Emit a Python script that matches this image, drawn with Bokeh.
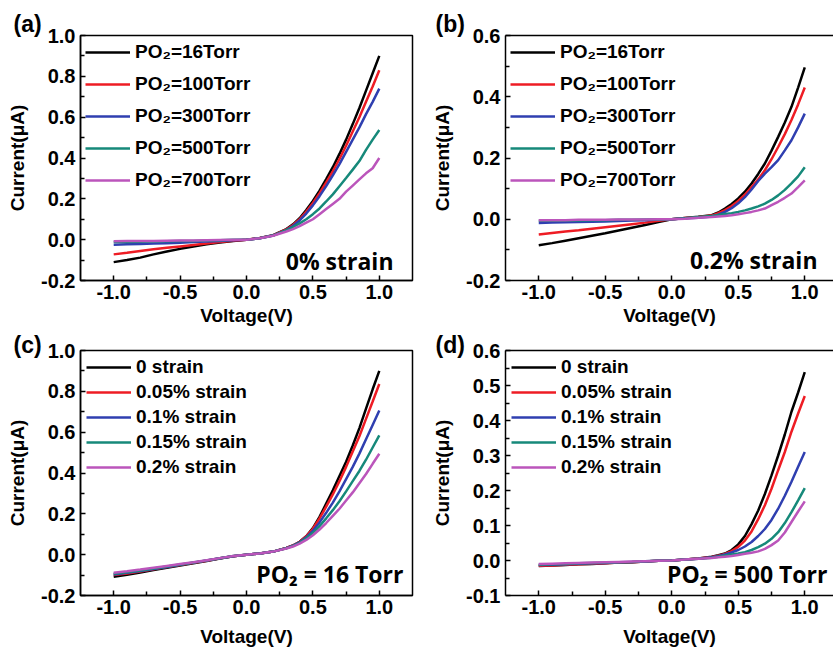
from bokeh.plotting import figure
from bokeh.layouts import gridplot
from bokeh.models import (Range1d, FixedTicker, PrintfTickFormatter, Legend,
                          LegendItem, Label, LinearAxis)
from bokeh.embed import file_html
from bokeh.resources import INLINE

# ---------------- data ----------------
voltage = [-1.0, -0.9, -0.8, -0.7, -0.6, -0.5, -0.4, -0.3, -0.2, -0.1, 0.0, 0.1, 0.2,
           0.3, 0.35, 0.4, 0.45, 0.5, 0.55, 0.6, 0.65, 0.7, 0.75, 0.8, 0.85, 0.9, 0.95, 1.0]

# (a) 0% strain, various oxygen pressures
a_16 = [-0.110, -0.100, -0.088, -0.072, -0.058, -0.045, -0.033, -0.023, -0.014, -0.006, 0.0, 0.008, 0.022,
        0.052, 0.075, 0.105, 0.145, 0.19, 0.24, 0.297, 0.355, 0.42, 0.49, 0.566, 0.645, 0.73, 0.815, 0.90]
a_100 = [-0.072, -0.064, -0.055, -0.047, -0.040, -0.033, -0.026, -0.019, -0.012, -0.005, 0.0, 0.008, 0.021,
         0.05, 0.072, 0.10, 0.138, 0.18, 0.228, 0.28, 0.335, 0.395, 0.46, 0.53, 0.60, 0.675, 0.75, 0.83]
a_300 = [-0.025, -0.023, -0.021, -0.019, -0.017, -0.015, -0.012, -0.009, -0.006, -0.003, 0.0, 0.007, 0.02,
         0.047, 0.067, 0.094, 0.128, 0.168, 0.213, 0.262, 0.315, 0.37, 0.43, 0.49, 0.55, 0.615, 0.675, 0.74]
a_500 = [-0.012, -0.011, -0.010, -0.009, -0.008, -0.007, -0.006, -0.004, -0.003, -0.001, 0.0, 0.007, 0.02,
         0.046, 0.062, 0.08, 0.10, 0.125, 0.153, 0.187, 0.222, 0.262, 0.302, 0.343, 0.385, 0.44, 0.49, 0.537]
a_700 = [-0.008, -0.007, -0.007, -0.006, -0.005, -0.004, -0.004, -0.003, -0.002, -0.001, 0.0, 0.007, 0.019,
         0.04, 0.052, 0.066, 0.083, 0.10, 0.125, 0.15, 0.175, 0.20, 0.235, 0.265, 0.295, 0.325, 0.35, 0.40]

# (b) 0.2% strain, various oxygen pressures
b_16 = [-0.085, -0.078, -0.070, -0.062, -0.054, -0.046, -0.037, -0.028, -0.019, -0.009, 0.0, 0.004, 0.008,
        0.013, 0.022, 0.035, 0.05, 0.068, 0.09, 0.117, 0.148, 0.182, 0.224, 0.269, 0.316, 0.367, 0.43, 0.496]
b_100 = [-0.050, -0.045, -0.040, -0.036, -0.031, -0.026, -0.021, -0.016, -0.011, -0.005, 0.0, 0.004, 0.007,
         0.012, 0.02, 0.03, 0.043, 0.06, 0.08, 0.105, 0.13, 0.16, 0.196, 0.236, 0.278, 0.324, 0.375, 0.43]
b_300 = [-0.012, -0.011, -0.010, -0.009, -0.008, -0.007, -0.006, -0.004, -0.003, -0.001, 0.0, 0.003, 0.005,
         0.009, 0.015, 0.024, 0.036, 0.052, 0.072, 0.097, 0.125, 0.149, 0.17, 0.193, 0.225, 0.258, 0.30, 0.345]
b_500 = [-0.005, -0.005, -0.004, -0.004, -0.003, -0.003, -0.002, -0.002, -0.001, -0.001, 0.0, 0.003, 0.007,
         0.011, 0.014, 0.017, 0.02, 0.024, 0.029, 0.035, 0.042, 0.051, 0.063, 0.078, 0.096, 0.117, 0.14, 0.17]
b_700 = [-0.003, -0.003, -0.003, -0.002, -0.002, -0.002, -0.001, -0.001, -0.001, 0.0, 0.0, 0.002, 0.005,
         0.007, 0.009, 0.011, 0.013, 0.016, 0.02, 0.024, 0.029, 0.035, 0.046, 0.057, 0.07, 0.084, 0.105, 0.127]

# (c) PO2 = 16 Torr, various strains
c_0 = [-0.108, -0.098, -0.087, -0.075, -0.064, -0.053, -0.042, -0.031, -0.019, -0.008, 0.0, 0.006, 0.015,
       0.033, 0.045, 0.063, 0.09, 0.13, 0.185, 0.25, 0.315, 0.385, 0.455, 0.535, 0.62, 0.715, 0.81, 0.90]
c_005 = [-0.100, -0.092, -0.082, -0.071, -0.061, -0.051, -0.040, -0.030, -0.018, -0.008, 0.0, 0.006, 0.015,
         0.033, 0.045, 0.062, 0.09, 0.127, 0.178, 0.235, 0.295, 0.36, 0.43, 0.505, 0.58, 0.665, 0.75, 0.836]
c_01 = [-0.097, -0.089, -0.080, -0.070, -0.060, -0.050, -0.039, -0.029, -0.018, -0.008, 0.0, 0.006, 0.015,
        0.032, 0.044, 0.06, 0.085, 0.117, 0.158, 0.205, 0.255, 0.31, 0.37, 0.43, 0.495, 0.565, 0.635, 0.706]
c_015 = [-0.093, -0.086, -0.077, -0.068, -0.058, -0.048, -0.038, -0.028, -0.018, -0.007, 0.0, 0.006, 0.015,
         0.031, 0.043, 0.058, 0.08, 0.107, 0.14, 0.178, 0.218, 0.262, 0.31, 0.36, 0.41, 0.465, 0.525, 0.584]
c_02 = [-0.088, -0.081, -0.073, -0.064, -0.055, -0.046, -0.037, -0.027, -0.017, -0.007, 0.0, 0.006, 0.015,
        0.03, 0.04, 0.054, 0.072, 0.095, 0.123, 0.155, 0.19, 0.225, 0.265, 0.305, 0.35, 0.395, 0.445, 0.494]

# (d) PO2 = 500 Torr, various strains
d_0 = [-0.016, -0.014, -0.013, -0.011, -0.010, -0.008, -0.006, -0.005, -0.003, -0.001, 0.0, 0.003, 0.006,
       0.011, 0.015, 0.02, 0.03, 0.046, 0.07, 0.104, 0.143, 0.19, 0.243, 0.30, 0.36, 0.425, 0.48, 0.538]
d_005 = [-0.015, -0.014, -0.012, -0.011, -0.009, -0.008, -0.006, -0.005, -0.003, -0.001, 0.0, 0.003, 0.006,
         0.01, 0.014, 0.019, 0.027, 0.039, 0.057, 0.083, 0.118, 0.158, 0.205, 0.258, 0.31, 0.368, 0.42, 0.47]
d_01 = [-0.013, -0.012, -0.011, -0.009, -0.008, -0.007, -0.005, -0.004, -0.003, -0.001, 0.0, 0.003, 0.005,
        0.009, 0.012, 0.017, 0.023, 0.03, 0.04, 0.053, 0.07, 0.09, 0.116, 0.148, 0.185, 0.225, 0.268, 0.31]
d_015 = [-0.012, -0.011, -0.010, -0.008, -0.007, -0.006, -0.005, -0.004, -0.002, -0.001, 0.0, 0.003, 0.005,
         0.008, 0.011, 0.014, 0.017, 0.02, 0.024, 0.03, 0.038, 0.048, 0.062, 0.081, 0.107, 0.138, 0.172, 0.207]
d_02 = [-0.010, -0.009, -0.008, -0.007, -0.006, -0.005, -0.004, -0.003, -0.002, -0.001, 0.0, 0.003, 0.005,
        0.007, 0.009, 0.011, 0.013, 0.016, 0.019, 0.022, 0.026, 0.033, 0.044, 0.057, 0.08, 0.11, 0.14, 0.169]

pressure_labels = ["PO₂=16Torr", "PO₂=100Torr", "PO₂=300Torr", "PO₂=500Torr", "PO₂=700Torr"]
strain_labels = ["0 strain", "0.05% strain", "0.1% strain", "0.15% strain", "0.2% strain"]

x_ticks = [-1.0, -0.5, 0.0, 0.5, 1.0]
x_minor = [-0.75, -0.25, 0.25, 0.75]
y_ticks_a = [-0.2, 0.0, 0.2, 0.4, 0.6, 0.8, 1.0]
y_minor_a = [-0.1, 0.1, 0.3, 0.5, 0.7, 0.9]
y_ticks_b = [-0.2, 0.0, 0.2, 0.4, 0.6]
y_minor_b = [-0.1, 0.1, 0.3, 0.5]
y_ticks_d = [-0.1, 0.0, 0.1, 0.2, 0.3, 0.4, 0.5, 0.6]
y_minor_d = [-0.05, 0.05, 0.15, 0.25, 0.35, 0.45, 0.55]

COLORS = ["#000000", "#ee1c24", "#2f3fb0", "#16897a", "#bb55bb"]
AX_FONT = "Liberation Sans"
ANN_FONT = "Open Sans"


def style_axis(ax, ticks, minor, label, standoff, label_standoff):
    ax.ticker = FixedTicker(ticks=ticks, minor_ticks=minor)
    ax.formatter = PrintfTickFormatter(format="%.1f")
    ax.axis_line_color = "black"
    ax.axis_line_width = 1.5
    ax.major_tick_in = 5
    ax.major_tick_out = 0
    ax.minor_tick_in = 4
    ax.minor_tick_out = 0
    ax.major_tick_line_width = 1.5
    ax.minor_tick_line_width = 1.5
    ax.major_tick_line_color = "black"
    ax.minor_tick_line_color = "black"
    ax.major_label_text_font = AX_FONT
    ax.major_label_text_font_size = "20px"
    ax.major_label_text_font_style = "bold"
    ax.major_label_text_color = "black"
    ax.major_label_standoff = standoff
    ax.axis_label = label
    ax.axis_label_text_font = AX_FONT
    ax.axis_label_text_font_size = "19px"
    ax.axis_label_text_font_style = "bold"
    ax.axis_label_text_color = "black"
    ax.axis_label_standoff = label_standoff


def make_panel(width, height, xr, yr, borders, yt, ym, series, labels, letter, letter_dx,
               letter_standoff, note, note_x, note_y, legend_h, legend_sp, legend_m,
               clipped_right, x_lab_standoff):
    bl, br, bt, bb = borders
    p = figure(width=width, height=height, x_range=Range1d(*xr), y_range=Range1d(*yr),
               output_backend="svg", toolbar_location=None,
               min_border_left=bl, min_border_right=br, min_border_top=bt, min_border_bottom=bb)
    p.grid.visible = False
    p.background_fill_color = "white"
    p.border_fill_color = "white"

    # panel letter as the plot title, pushed left of the frame
    p.title.text = letter
    p.title.align = "left"
    p.title.offset = letter_dx
    p.title.standoff = letter_standoff
    p.title.text_font = AX_FONT
    p.title.text_font_size = "23px"
    p.title.text_font_style = "bold"
    p.title.text_color = "black"

    style_axis(p.below[0], x_ticks, x_minor, "Voltage(V)", 4, x_lab_standoff)
    style_axis(p.left[0], yt, ym, "Current(μA)", 5, 10)

    if clipped_right:
        # panel runs off the page on the right: draw only top, left and bottom edges
        p.outline_line_color = None
        top = LinearAxis(ticker=FixedTicker(ticks=[]), major_tick_in=0, major_tick_out=0,
                         minor_tick_in=0, minor_tick_out=0, major_label_standoff=0,
                         axis_line_width=1.5, axis_line_color="black")
        p.add_layout(top, "above")
    else:
        p.outline_line_color = "black"
        p.outline_line_width = 1.5
        p.outline_line_alpha = 1.0

    items = []
    for ys, lab, col in zip(series, labels, COLORS):
        r = p.line(voltage, ys, line_color=col, line_width=2.5)
        items.append(LegendItem(label=lab, renderers=[r]))
    leg = Legend(items=items, location="top_left", background_fill_alpha=0,
                 border_line_color=None, label_text_font=AX_FONT, label_text_font_size="19px",
                 label_text_font_style="bold", label_text_color="black",
                 glyph_width=45, glyph_height=legend_h, label_height=legend_h,
                 spacing=legend_sp, padding=0, margin=legend_m, label_standoff=5)
    p.add_layout(leg)

    p.add_layout(Label(x=note_x, y=note_y, x_units="screen", y_units="screen", text=note,
                       text_font=ANN_FONT, text_font_size="23px", text_font_style="bold",
                       text_baseline="alphabetic", text_align="right", text_color="black"))
    return p


TOP_H, BOT_H = 330, 319
LEFT_W, RIGHT_W = 420, 413
X_RIGHT = (-1.25, 1.216)

pa = make_panel(LEFT_W, TOP_H, (-1.25, 1.25), (-0.2, 1.0), (80, 8, 35, 50), y_ticks_a, y_minor_a,
                [a_16, a_100, a_300, a_500, a_700], pressure_labels, "(a)", -67, -2,
                "0% strain", 313, 20, 24, 8, 5, False, 3)
pb = make_panel(RIGHT_W, TOP_H, X_RIGHT, (-0.2, 0.6), (85, 0, 35, 50), y_ticks_b, y_minor_b,
                [b_16, b_100, b_300, b_500, b_700], pressure_labels, "(b)", -70, -2,
                "0.2% strain", 312, 21, 24, 8, 5, True, 3)
pc = make_panel(LEFT_W, BOT_H, (-1.25, 1.25), (-0.2, 1.0), (80, 8, 20, 54), y_ticks_a, y_minor_a,
                [c_0, c_005, c_01, c_015, c_02], strain_labels, "(c)", -67, -14,
                "PO₂ = 16 Torr", 323, 22, 22, 3, 6, False, 9)
pd = make_panel(RIGHT_W, BOT_H, X_RIGHT, (-0.1, 0.6), (85, 0, 20, 54), y_ticks_d, y_minor_d,
                [d_0, d_005, d_01, d_015, d_02], strain_labels, "(d)", -70, -14,
                "PO₂ = 500 Torr", 322, 22, 22, 3, 6, True, 9)

grid = gridplot([[pa, pb], [pc, pd]], toolbar_location=None)

open("out.html", "w").write(file_html(grid, INLINE))
